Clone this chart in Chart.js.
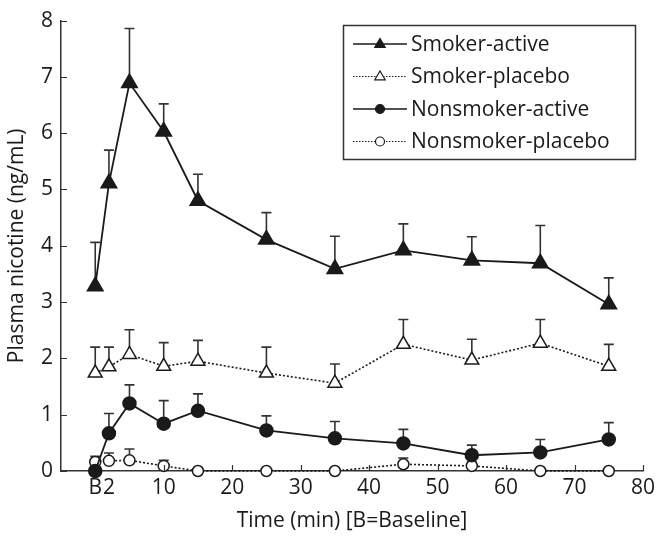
<!DOCTYPE html>
<html lang="en">
<head>
  <meta charset="UTF-8">
  <title>Plasma nicotine</title>
  <script src="https://cdn.jsdelivr.net/npm/chart.js"></script>
  <style>
    body { margin: 0; background: #fff; }
    #wrap { width: 662px; height: 536px; }
  </style>
</head>
<body>
  <div id="wrap"><canvas id="chart" width="662" height="536"></canvas></div>
  <script>
    // time points (0 = baseline "B")
    const times = [0, 2, 5, 10, 15, 25, 35, 45, 55, 65, 75];
    const xTicks = [0, 2, 10, 20, 30, 40, 50, 60, 70, 80];

    const smokerActive      = [3.28, 5.11, 6.89, 6.03, 4.80, 4.11, 3.59, 3.92, 3.74, 3.69, 2.96];
    const smokerActiveErr   = [0.78, 0.59, 0.97, 0.49, 0.47, 0.48, 0.58, 0.47, 0.42, 0.67, 0.47];
    const smokerPlacebo     = [1.74, 1.85, 2.07, 1.86, 1.95, 1.74, 1.56, 2.25, 1.97, 2.27, 1.86];
    const smokerPlaceboErr  = [0.46, 0.35, 0.44, 0.42, 0.37, 0.46, 0.34, 0.44, 0.37, 0.42, 0.39];
    const nonsmokerActive     = [0.00, 0.67, 1.20, 0.84, 1.07, 0.72, 0.58, 0.49, 0.28, 0.33, 0.56];
    const nonsmokerActiveErr  = [0.00, 0.35, 0.33, 0.41, 0.30, 0.26, 0.30, 0.25, 0.18, 0.23, 0.30];
    const nonsmokerPlacebo    = [0.16, 0.18, 0.19, 0.09, 0.00, 0.00, 0.00, 0.12, 0.09, 0.00, 0.00];
    const nonsmokerPlaceboErr = [0.10, 0.14, 0.20, 0.10, 0.00, 0.00, 0.00, 0.11, 0.07, 0.00, 0.00];

    const FONT = "'Open Sans', 'DejaVu Sans', sans-serif";
    const INK = '#1a1a1a';

    const toPoints = vals => times.map((t, i) => ({ x: t, y: vals[i] }));

    function series(label, vals, errs, style, filled, dotted) {
      let r = style === 'triangle' ? 9 : 6.5;
      if (!filled) r -= 1;
      return {
        label: label,
        data: toPoints(vals),
        errors: errs,
        borderColor: INK,
        borderWidth: dotted ? 1.6 : 1.8,
        borderDash: dotted ? [2, 2] : [],
        pointStyle: style,
        pointRadius: r,
        pointBorderWidth: 1.5,
        pointBorderColor: INK,
        pointBackgroundColor: filled ? INK : '#fff',
        tension: 0
      };
    }

    // upward-only error bars, drawn under the markers
    const errorBars = {
      id: 'errorBars',
      beforeDatasetsDraw(chart) {
        const ctx = chart.ctx;
        const xs = chart.scales.x, ys = chart.scales.y;
        ctx.save();
        ctx.strokeStyle = '#333';
        ctx.lineWidth = 1.6;
        chart.data.datasets.forEach(ds => {
          ds.data.forEach((p, i) => {
            const e = ds.errors[i];
            if (!e) return;
            const px = xs.getPixelForValue(p.x);
            const y0 = ys.getPixelForValue(p.y);
            const y1 = ys.getPixelForValue(p.y + e);
            ctx.beginPath();
            ctx.moveTo(px, y0);
            ctx.lineTo(px, y1);
            ctx.moveTo(px - 5, y1);
            ctx.lineTo(px + 5, y1);
            ctx.stroke();
          });
        });
        ctx.restore();
      }
    };

    // inward tick marks
    const innerTicks = {
      id: 'innerTicks',
      afterDraw(chart) {
        const ctx = chart.ctx;
        const xs = chart.scales.x, ys = chart.scales.y;
        const a = chart.chartArea;
        ctx.save();
        ctx.strokeStyle = '#333';
        ctx.lineWidth = 1.2;
        ctx.beginPath();
        xs.ticks.forEach(t => {
          if (t.value === 0 || t.value === 2) return;
          const px = Math.round(xs.getPixelForValue(t.value)) + 0.5;
          ctx.moveTo(px, a.bottom);
          ctx.lineTo(px, a.bottom - 6);
        });
        ys.ticks.forEach(t => {
          const py = Math.round(ys.getPixelForValue(t.value)) + 0.5;
          ctx.moveTo(a.left, py);
          ctx.lineTo(a.left + 6, py);
        });
        ctx.stroke();
        ctx.restore();
      }
    };

    // legend box with line + marker samples
    const boxLegend = {
      id: 'boxLegend',
      afterDraw(chart) {
        const ctx = chart.ctx;
        const left = 343, top = 25, w = 292, h = 134;
        ctx.save();
        ctx.fillStyle = '#fff';
        ctx.fillRect(left, top, w, h);
        ctx.strokeStyle = '#333';
        ctx.lineWidth = 1.5;
        ctx.strokeRect(left + 0.5, top + 0.5, w, h);
        chart.data.datasets.forEach((ds, i) => {
          const y = top + 19 + i * 32.5;
          ctx.strokeStyle = INK;
          ctx.lineWidth = ds.borderDash.length ? 1.2 : 1.6;
          ctx.setLineDash(ds.borderDash.length ? [1.5, 1.5] : []);
          ctx.beginPath();
          ctx.moveTo(353, y);
          ctx.lineTo(407, y);
          ctx.stroke();
          ctx.setLineDash([]);
          ctx.fillStyle = ds.pointBackgroundColor;
          ctx.strokeStyle = INK;
          ctx.lineWidth = 1.2;
          ctx.beginPath();
          if (ds.pointStyle === 'triangle') {
            const r = 5.5;
            ctx.moveTo(380, y - r);
            ctx.lineTo(380 + r * 0.95, y + r * 0.6);
            ctx.lineTo(380 - r * 0.95, y + r * 0.6);
            ctx.closePath();
          } else {
            ctx.arc(380, y, 4.5, 0, Math.PI * 2);
          }
          ctx.fill();
          ctx.stroke();
          ctx.fillStyle = INK;
          ctx.font = '21px ' + FONT;
          ctx.textBaseline = 'middle';
          ctx.fillText(ds.label, 411, y + 1);
        });
        ctx.restore();
      }
    };

    new Chart(document.getElementById('chart'), {
      type: 'line',
      data: {
        datasets: [
          series('Smoker-active', smokerActive, smokerActiveErr, 'triangle', true, false),
          series('Smoker-placebo', smokerPlacebo, smokerPlaceboErr, 'triangle', false, true),
          series('Nonsmoker-active', nonsmokerActive, nonsmokerActiveErr, 'circle', true, false),
          series('Nonsmoker-placebo', nonsmokerPlacebo, nonsmokerPlaceboErr, 'circle', false, true)
        ]
      },
      options: {
        responsive: false,
        animation: false,
        clip: false,
        layout: { padding: { top: 16, right: 19, left: 0, bottom: 0 } },
        plugins: {
          legend: { display: false },
          tooltip: { enabled: false }
        },
        scales: {
          x: {
            type: 'linear',
            min: -5,
            max: 80,
            afterBuildTicks: axis => { axis.ticks = xTicks.map(v => ({ value: v })); },
            afterFit: axis => { axis.height = 65; },
            grid: { display: false, drawTicks: false },
            border: { display: true, color: '#333', width: 1.5 },
            ticks: {
              autoSkip: false,
              maxRotation: 0,
              padding: 4,
              color: INK,
              font: { family: FONT, size: 21 },
              callback: v => (v === 0 ? 'B' : v)
            },
            title: {
              display: true,
              text: 'Time (min) [B=Baseline]',
              color: INK,
              padding: { top: 0, bottom: 2 },
              font: { family: FONT, size: 21 }
            }
          },
          y: {
            min: 0,
            max: 8,
            afterFit: axis => { axis.width = 61; },
            grid: { display: false, drawTicks: false },
            border: { display: true, color: '#333', width: 1.5 },
            ticks: {
              stepSize: 1,
              padding: 8,
              color: INK,
              font: { family: FONT, size: 21 }
            },
            title: {
              display: true,
              text: 'Plasma nicotine (ng/mL)',
              color: INK,
              padding: { bottom: 2 },
              font: { family: FONT, size: 21 }
            }
          }
        }
      },
      plugins: [errorBars, innerTicks, boxLegend]
    });
  </script>
</body>
</html>
